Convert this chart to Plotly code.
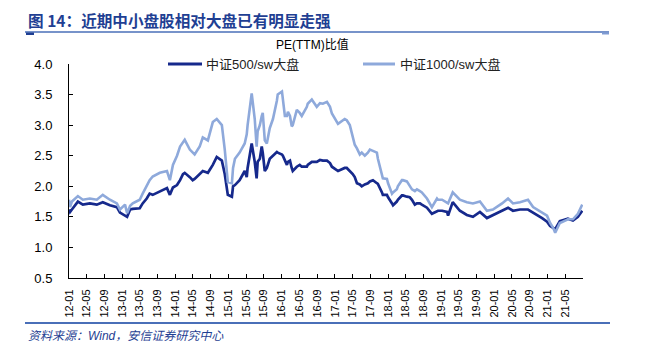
import plotly.graph_objects as go

# ---------------- data ----------------
dates = [
"2012-01-01","2012-01-08","2012-01-21","2012-03-02","2012-04-05","2012-05-23","2012-07-10","2012-08-20","2012-10-08","2012-10-28","2012-11-25","2012-12-16",
"2013-01-20","2013-02-03","2013-02-24","2013-03-14","2013-05-01","2013-05-21","2013-06-18","2013-07-08","2013-07-29","2013-09-16",
"2013-11-04","2013-11-24","2013-12-15","2014-01-12","2014-02-02","2014-02-22","2014-03-06","2014-04-10","2014-04-30","2014-05-13",
"2014-06-17","2014-07-08","2014-08-12","2014-09-15","2014-10-12","2014-11-16","2014-12-06","2014-12-27","2015-01-24","2015-02-01",
"2015-02-14","2015-03-18","2015-04-22","2015-05-06","2015-05-12","2015-06-09","2015-06-30","2015-07-13","2015-07-20","2015-08-04",
"2015-08-17","2015-08-24","2015-09-07","2015-09-21","2015-10-11","2015-11-02","2015-11-29","2015-12-05","2016-01-03","2016-01-09",
"2016-01-23","2016-02-06","2016-02-13","2016-02-27","2016-03-10","2016-03-17","2016-04-14","2016-05-04","2016-05-18","2016-06-22",
"2016-06-28","2016-07-26","2016-08-29","2016-09-20","2016-10-10","2016-11-07","2016-11-28","2016-12-11","2017-01-22","2017-03-09",
"2017-03-23","2017-04-13","2017-05-03","2017-05-17","2017-06-01","2017-06-21","2017-07-04","2017-07-25","2017-08-15","2017-08-29",
"2017-09-19","2017-10-16","2017-10-23","2017-11-20","2017-11-26","2017-12-24","2018-01-01","2018-01-28","2018-02-04","2018-03-02",
"2018-03-09","2018-04-06","2018-04-13","2018-05-10","2018-05-30","2018-06-14","2018-07-04","2018-07-18","2018-08-08","2018-08-21",
"2018-09-25","2018-10-29","2018-12-03","2018-12-10","2019-01-07","2019-02-10","2019-02-17","2019-03-21","2019-05-09","2019-06-26",
"2019-08-07","2019-09-24","2019-11-11","2019-12-22","2020-02-23","2020-04-04","2020-05-08","2020-06-25","2020-08-19","2020-09-23",
"2020-10-07","2020-11-10","2020-11-24","2020-12-28","2021-01-18","2021-02-08","2021-02-22","2021-03-26","2021-05-13","2021-05-20",
"2021-06-24","2021-07-28","2021-08-27"]

csi500_ratio = [
1.62,1.58,1.62,1.75,1.70,1.72,1.70,1.74,1.69,1.68,1.66,1.57,
1.52,1.50,1.62,1.63,1.64,1.72,1.80,1.88,1.86,1.92,
1.97,1.86,1.98,2.02,2.10,2.20,2.22,2.15,2.10,2.12,
2.20,2.25,2.22,2.35,2.48,2.42,2.20,1.86,1.83,2.00,
2.02,2.10,2.25,2.15,2.30,2.70,2.40,2.13,2.40,2.45,
2.65,2.55,2.25,2.30,2.45,2.50,2.56,2.55,2.52,2.50,
2.42,2.35,2.40,2.42,2.30,2.25,2.32,2.35,2.32,2.32,
2.35,2.40,2.40,2.43,2.42,2.42,2.38,2.32,2.25,2.30,
2.30,2.25,2.20,2.15,2.05,2.03,2.00,2.03,2.05,2.08,
2.10,2.05,2.04,1.90,1.86,1.86,1.82,1.72,1.69,1.75,
1.78,1.85,1.85,1.83,1.82,1.78,1.70,1.72,1.72,1.70,
1.65,1.55,1.60,1.60,1.60,1.58,1.52,1.74,1.60,1.53,
1.50,1.58,1.48,1.53,1.60,1.65,1.60,1.62,1.62,1.57,
1.56,1.50,1.48,1.42,1.35,1.32,1.30,1.43,1.46,1.47,
1.44,1.50,1.60]

csi1000_ratio = [
1.78,1.66,1.75,1.84,1.78,1.80,1.78,1.86,1.78,1.75,1.72,1.62,
1.70,1.56,1.68,1.72,1.78,1.88,2.00,2.10,2.16,2.22,
2.25,2.10,2.35,2.50,2.65,2.72,2.76,2.60,2.55,2.52,
2.65,2.80,2.75,3.05,3.10,3.00,2.60,2.07,2.05,2.30,
2.45,2.55,2.70,2.85,3.00,3.52,3.10,2.65,2.90,3.00,
3.15,3.20,2.75,2.70,2.95,3.10,3.40,3.50,3.55,3.40,
3.15,3.15,3.22,3.15,2.98,3.00,3.25,3.20,3.15,3.30,
3.35,3.42,3.30,3.36,3.35,3.38,3.30,3.19,3.02,3.10,
3.08,3.00,2.80,2.68,2.62,2.52,2.55,2.50,2.55,2.60,
2.58,2.55,2.45,2.15,2.13,2.12,2.05,1.88,1.90,1.95,
2.00,2.10,2.10,2.08,2.00,1.95,1.92,1.95,1.92,1.90,
1.80,1.66,1.80,1.78,1.78,1.73,1.72,1.90,1.78,1.74,
1.72,1.75,1.60,1.62,1.72,1.80,1.72,1.74,1.78,1.66,
1.64,1.60,1.58,1.52,1.40,1.32,1.24,1.40,1.45,1.46,
1.46,1.55,1.70]

series_names = ["中证500/sw大盘", "中证1000/sw大盘"]
tick_dates = ["2012-01-01","2012-05-01","2012-09-01","2013-01-01","2013-05-01","2013-09-01",
              "2014-01-01","2014-05-01","2014-09-01","2015-01-01","2015-05-01","2015-09-01",
              "2016-01-01","2016-05-01","2016-09-01","2017-01-01","2017-05-01","2017-09-01",
              "2018-01-01","2018-05-01","2018-09-01","2019-01-01","2019-05-01","2019-09-01",
              "2020-01-01","2020-05-01","2020-09-01","2021-01-01","2021-05-01","2021-09-01"]
tick_text = ["12-01","12-05","12-09","13-01","13-05","13-09","14-01","14-05","14-09",
             "15-01","15-05","15-09","16-01","16-05","16-09","17-01","17-05","17-09",
             "18-01","18-05","18-09","19-01","19-05","19-09","20-01","20-05","20-09",
             "21-01","21-05",""]

title_text = "图 14：近期中小盘股相对大盘已有明显走强"
unit_text = "PE(TTM)比值"
source_text = "资料来源：Wind，安信证券研究中心"

assert len(dates) == len(csi500_ratio) == len(csi1000_ratio)

# ---------------- styling ----------------
W, H = 652, 352
L, R, T, B = 69, 69, 64, 74
DARK = "#16298C"
LIGHT = "#8EA9DB"
BLUE_TXT = "#1F3F93"
RULE = "#4A6FB8"
FONT = "Liberation Sans, Arial, Noto Sans CJK SC, sans-serif"
CJK = "Noto Sans CJK SC, sans-serif"

def px(x):
    return (x - L) / (W - L - R)

def py(y):
    return (H - B - y) / (H - T - B)

fig = go.Figure()
fig.add_trace(go.Scatter(x=dates, y=csi500_ratio, mode="lines", name=series_names[0],
                         line=dict(color=DARK, width=2.7), showlegend=False))
fig.add_trace(go.Scatter(x=dates, y=csi1000_ratio, mode="lines", name=series_names[1],
                         line=dict(color=LIGHT, width=2.6), showlegend=False))

fig.update_layout(
    width=W, height=H, margin=dict(l=L, r=R, t=T, b=B),
    paper_bgcolor="white", plot_bgcolor="white",
    font=dict(family=FONT, color="black"),
)
fig.update_xaxes(
    type="date", range=["2012-01-01", "2021-09-01"],
    tickmode="array", tickvals=tick_dates, ticktext=tick_text,
    tickangle=-90, ticks="inside", ticklen=4, tickcolor="black",
    showline=True, linecolor="black", linewidth=1, showgrid=False, zeroline=False,
    tickfont=dict(size=11, family=FONT), ticklabelstandoff=6,
)
fig.update_yaxes(
    range=[0.5, 4.0], dtick=0.5, tick0=0.5, tickformat=".1f",
    ticks="inside", ticklen=4, tickcolor="black",
    showline=True, linecolor="black", linewidth=1, showgrid=False, zeroline=False,
    tickfont=dict(size=13, family=FONT), ticklabelstandoff=13,
)

shapes = []
# top rule under title with small end markers, bottom rule
shapes.append(dict(type="line", xref="paper", yref="paper", x0=px(25), x1=px(609), y0=py(32), y1=py(32),
                   line=dict(color=RULE, width=1.5)))
shapes.append(dict(type="rect", xref="paper", yref="paper", x0=px(26), x1=px(34), y0=py(35), y1=py(32.5),
                   line=dict(width=0), fillcolor="#1F3F93"))
shapes.append(dict(type="rect", xref="paper", yref="paper", x0=px(602), x1=px(609), y0=py(34.5), y1=py(32.5),
                   line=dict(width=0), fillcolor="#7F9BD3"))
shapes.append(dict(type="line", xref="paper", yref="paper", x0=px(25), x1=px(610), y0=py(323), y1=py(323),
                   line=dict(color=RULE, width=1.8)))
# legend samples
shapes.append(dict(type="line", xref="paper", yref="paper", x0=px(168), x1=px(202), y0=py(64), y1=py(64),
                   line=dict(color=DARK, width=3)))
shapes.append(dict(type="line", xref="paper", yref="paper", x0=px(363), x1=px(395), y0=py(64), y1=py(64),
                   line=dict(color=LIGHT, width=3)))
fig.update_layout(shapes=shapes)

ann = []
ann.append(dict(text="<b>" + title_text + "</b>", xref="paper", yref="paper", x=px(26), y=py(20),
                xanchor="left", yanchor="middle", showarrow=False,
                font=dict(family=CJK, size=15.6, color=BLUE_TXT)))
ann.append(dict(text=unit_text, xref="paper", yref="paper", x=px(312), y=py(44),
                xanchor="center", yanchor="middle", showarrow=False,
                font=dict(family=FONT, size=12, color="black")))
ann.append(dict(text=series_names[0], xref="paper", yref="paper", x=px(204), y=py(64),
                xanchor="left", yanchor="middle", showarrow=False,
                font=dict(family=FONT, size=13, color="#222")))
ann.append(dict(text=series_names[1], xref="paper", yref="paper", x=px(398), y=py(64),
                xanchor="left", yanchor="middle", showarrow=False,
                font=dict(family=FONT, size=13, color="#222")))
ann.append(dict(text="<i>" + source_text + "</i>", xref="paper", yref="paper", x=px(26), y=py(336),
                xanchor="left", yanchor="middle", showarrow=False,
                font=dict(family=FONT, size=12, color=BLUE_TXT)))
fig.update_layout(annotations=ann)

fig.write_html("out.html")
